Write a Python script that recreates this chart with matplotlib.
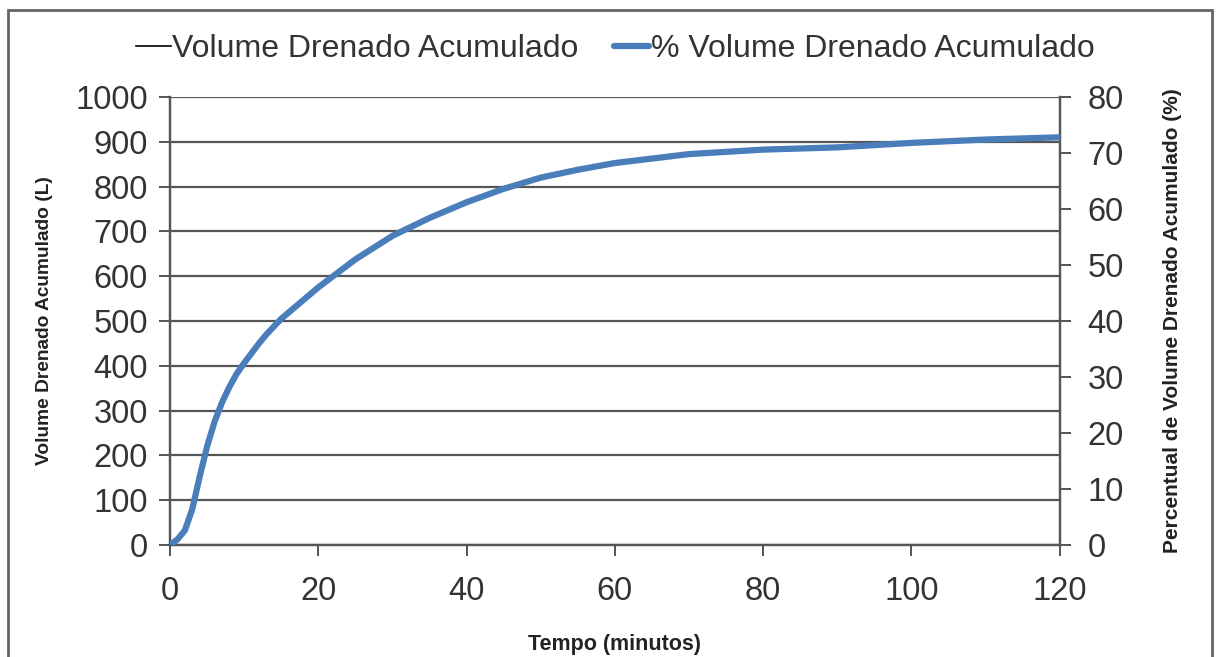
import matplotlib
matplotlib.use("Agg")
import matplotlib.pyplot as plt
from matplotlib.patches import Rectangle

# Dados do ensaio de drenagem
tempo = [0, 1, 2, 3, 4, 5, 6, 7, 8, 9, 10, 12, 13, 15, 20, 25, 30, 35, 40,
         45, 50, 55, 60, 70, 80, 90, 100, 110, 120]
volume = [0, 12, 32, 80, 152, 220, 275, 318, 353, 382, 406, 450, 470, 505,
          575, 638, 690, 730, 765, 795, 820, 838, 852, 872, 882, 888, 898,
          905, 910]
percentual = [0.0, 1.0, 2.6, 6.4, 12.2, 17.6, 22.0, 25.4, 28.2, 30.6, 32.5,
              36.0, 37.6, 40.4, 46.0, 51.0, 55.2, 58.4, 61.2, 63.6, 65.6,
              67.0, 68.2, 69.8, 70.6, 71.0, 71.8, 72.4, 72.8]

plt.rcParams['font.family'] = ['Liberation Sans', 'DejaVu Sans']

fig = plt.figure(figsize=(12.18, 6.57), dpi=100)
ax = fig.add_axes([0.1396, 0.1705, 0.7304, 0.6819])
ax2 = ax.twinx()

cor_grade = '#555555'

# Volume (eixo da esquerda) e percentual (eixo da direita)
l1, = ax.plot(tempo, volume, color='black', lw=1.2, zorder=3,
              label='Volume Drenado Acumulado')
l2, = ax2.plot(tempo, percentual, color='#4A7EBB', lw=4.5, zorder=4,
               solid_capstyle='round', solid_joinstyle='round',
               label='% Volume Drenado Acumulado')

ax.set_xlim(0, 120)
ax.set_ylim(0, 1000)
ax2.set_ylim(0, 80)
ax.set_xticks(range(0, 121, 20))
ax.set_yticks(range(0, 1001, 100))
ax2.set_yticks(range(0, 81, 10))

ax.yaxis.grid(True, color=cor_grade, lw=1.6)
ax.set_axisbelow(True)

for a in (ax, ax2):
    a.spines['top'].set_visible(False)
    for lado in ('left', 'right', 'bottom'):
        a.spines[lado].set_color(cor_grade)
        a.spines[lado].set_linewidth(1.6)
    a.tick_params(colors=cor_grade, width=1.4, length=8, labelsize=23.5,
                  labelcolor='#333333', pad=8)
ax.tick_params(axis='x', pad=14)
ax2.tick_params(axis='y', pad=12)

ax.set_xlabel('Tempo (minutos)', fontsize=15.5, fontweight='bold',
              color='#222222', labelpad=20)
ax.set_ylabel('Volume Drenado Acumulado (L)', fontsize=13.8, fontweight='bold',
              color='#222222', labelpad=16)
ax2.set_ylabel('Percentual de Volume Drenado Acumulado (%)', fontsize=15,
               fontweight='bold', color='#222222', labelpad=28)

fig.legend(handles=[l1, l2], loc='center', bbox_to_anchor=(0.505, 0.925),
           ncol=2, frameon=False, fontsize=23, handlelength=1.1,
           handletextpad=0.05, columnspacing=1.1, labelcolor='#333333')

# Moldura externa do gráfico
fig.patches.append(Rectangle((8 / 1218, -0.02), 1204 / 1218, 1 - 10 / 657 + 0.02,
                             transform=fig.transFigure, fill=False,
                             edgecolor='#666666', lw=2))

fig.savefig('out.png', dpi=100)
